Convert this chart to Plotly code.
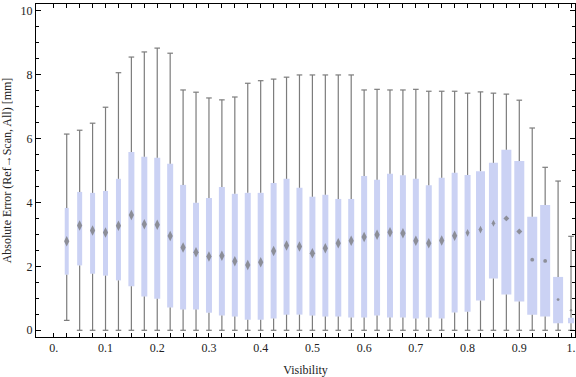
import plotly.graph_objects as go

# ---- data ----
visibility = [0.025, 0.05, 0.075, 0.1, 0.125, 0.15, 0.175, 0.2, 0.225, 0.25,
              0.275, 0.3, 0.325, 0.35, 0.375, 0.4, 0.425, 0.45, 0.475, 0.5,
              0.525, 0.55, 0.575, 0.6, 0.625, 0.65, 0.675, 0.7, 0.725, 0.75,
              0.775, 0.8, 0.825, 0.85, 0.875, 0.9, 0.925, 0.95, 0.975, 1.0]
err_min = [0.31, 0, 0, 0, 0, 0, 0, 0, 0, 0,
           0, 0, 0, 0, 0, 0, 0, 0, 0, 0,
           0, 0, 0, 0, 0, 0, 0, 0, 0, 0,
           0, 0, 0, 0, 0, 0, 0, 0, 0, 0]
err_q1 = [1.74, 2.03, 1.77, 1.71, 1.56, 1.38, 1.06, 0.99, 0.71, 0.65,
          0.65, 0.55, 0.46, 0.43, 0.33, 0.33, 0.37, 0.49, 0.49, 0.46,
          0.43, 0.43, 0.40, 0.40, 0.46, 0.40, 0.40, 0.37, 0.40, 0.37,
          0.56, 0.58, 0.93, 1.62, 1.12, 0.90, 0.49, 0.43, 0.22, 0.22]
err_mean = [2.79, 3.28, 3.12, 3.06, 3.27, 3.61, 3.32, 3.30, 2.95, 2.59,
            2.44, 2.31, 2.33, 2.16, 2.04, 2.13, 2.48, 2.65, 2.62, 2.41,
            2.57, 2.72, 2.80, 2.92, 2.99, 3.07, 3.04, 2.80, 2.72, 2.81,
            2.96, 3.05, 3.15, 3.35, 3.50, 3.09, 2.21, 2.17, 0.96, 0.63]
err_q3 = [3.83, 4.33, 4.30, 4.36, 4.74, 5.58, 5.43, 5.40, 5.21, 4.55,
          3.99, 4.14, 4.48, 4.27, 4.30, 4.30, 4.61, 4.74, 4.46, 4.18,
          4.24, 4.11, 4.11, 4.83, 4.71, 4.90, 4.85, 4.74, 4.54, 4.77,
          4.93, 4.86, 4.98, 5.24, 5.65, 5.30, 3.55, 3.92, 1.67, 0.39]
err_max = [6.14, 6.26, 6.48, 6.98, 8.06, 8.55, 8.71, 8.83, 8.67, 7.52,
           7.45, 7.27, 7.21, 7.30, 7.73, 7.81, 7.86, 7.92, 7.99, 7.99,
           7.99, 7.99, 7.99, 7.52, 7.54, 7.52, 7.52, 7.54, 7.48, 7.48,
           7.48, 7.42, 7.46, 7.42, 7.39, 7.20, 6.33, 5.10, 4.67, 2.94]

x_tick_vals = [0, 0.1, 0.2, 0.3, 0.4, 0.5, 0.6, 0.7, 0.8, 0.9, 1.0]
x_tick_text = ["0.", "0.1", "0.2", "0.3", "0.4", "0.5", "0.6", "0.7", "0.8", "0.9", "1."]
y_tick_vals = [0, 2, 4, 6, 8, 10]

# ---- styles ----
box_width_px = [4, 5, 5, 5, 5, 6, 6, 6, 6, 6,
                6, 6, 6, 6, 6, 6, 6, 6, 6, 6,
                6, 6, 6, 6, 6, 6, 6, 6, 6, 6,
                6, 6, 9, 9, 10, 10, 10, 10, 10, 6]
mean_symbol = ["diamond-tall"] * 34 + ["diamond"] * 2 + ["circle"] * 4
mean_size = [7.5] * 31 + [5.5, 5.5, 5, 4.5, 4.5, 3.8, 3.8, 2.8, 2.4]

PX = 1 / 517.2  # data units per pixel on x
BOX_COLOR = "#cbd2f4"
GRAY = "rgb(124,124,124)"
FONT = "Liberation Serif"

fig = go.Figure()

# whisker segments (below and above each box)
wx, wy = [], []
for xv, lo, a, b, hi in zip(visibility, err_min, err_q1, err_q3, err_max):
    wx += [xv, xv, None, xv, xv, None]
    wy += [lo, a, None, b, hi, None]
fig.add_trace(go.Scatter(x=wx, y=wy, mode="lines",
                         line=dict(color=GRAY, width=1.2),
                         hoverinfo="skip", showlegend=False))

# boxes
fig.add_trace(go.Bar(x=visibility,
                     y=[b - a for a, b in zip(err_q1, err_q3)],
                     base=err_q1,
                     width=[w * PX for w in box_width_px],
                     marker=dict(color=BOX_COLOR, line=dict(width=0)),
                     showlegend=False))

# whisker caps
fig.add_trace(go.Scatter(x=visibility + visibility, y=err_min + err_max,
                         mode="markers",
                         marker=dict(symbol="line-ew", size=4,
                                     line=dict(color=GRAY, width=1.2)),
                         hoverinfo="skip", showlegend=False))

# mean markers
fig.add_trace(go.Scatter(x=visibility, y=err_mean, mode="markers",
                         marker=dict(symbol=mean_symbol, size=mean_size,
                                     color="rgb(112,112,112)",
                                     line=dict(width=0)),
                         showlegend=False))

minor_x = [round(0.025 * k, 4) for k in range(0, 41)]
minor_x = [v for v in minor_x if round(v * 10, 6) != round(v * 10)]

axis_common = dict(showline=True, linecolor="black", linewidth=1,
                   mirror="ticks", ticks="inside", tickcolor="black",
                   showgrid=False, zeroline=False,
                   tickfont=dict(family=FONT, size=12, color="#222"))

fig.update_layout(
    width=576, height=377,
    margin=dict(l=36, r=1, t=4, b=40),
    paper_bgcolor="white", plot_bgcolor="white",
    barmode="overlay",
    font=dict(family=FONT, size=12, color="#222"),
    xaxis=dict(range=[-0.0344, 1.0077], tickmode="array",
               tickvals=x_tick_vals, ticktext=x_tick_text, ticklen=4,
               minor=dict(tickmode="array", tickvals=minor_x, ticklen=4,
                          ticks="inside", tickcolor="black"),
               title=dict(text="Visibility", standoff=11,
                          font=dict(family=FONT, size=12, color="#222")),
               **axis_common),
    yaxis=dict(range=[-0.21, 10.21], tickmode="array",
               tickvals=y_tick_vals, ticklen=5,
               minor=dict(dtick=0.5, ticklen=3, ticks="inside",
                          tickcolor="black"),
               title=dict(text="Absolute Error (Ref\u2192Scan, All) [mm]",
                          standoff=6,
                          font=dict(family=FONT, size=12, color="#222")),
               **axis_common),
)

fig.write_html("out.html",
               config={"displayModeBar": False},
               post_script="document.body.style.margin='0';"
                           "document.body.style.padding='0';")
